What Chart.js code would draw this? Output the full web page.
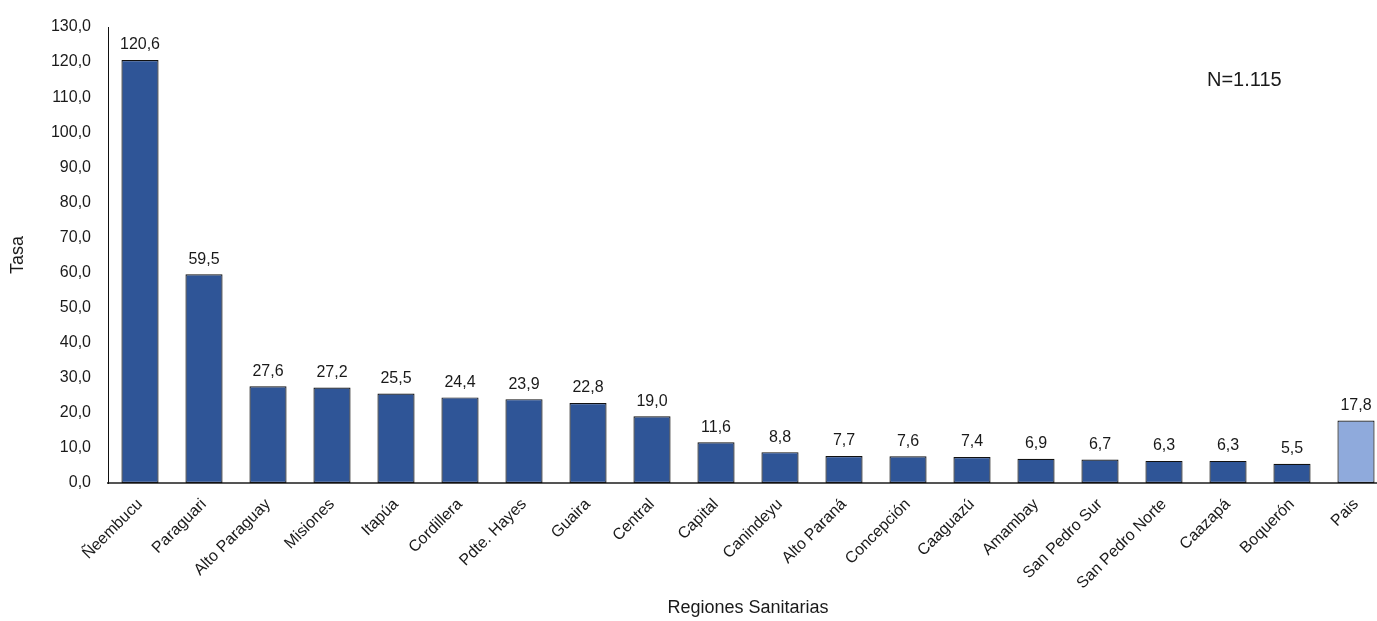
<!DOCTYPE html>
<html>
<head>
<meta charset="utf-8">
<script src="https://cdn.jsdelivr.net/npm/chart.js@4.4.1/dist/chart.umd.min.js"></script>
<style>
  html, body { margin: 0; padding: 0; background: #fff; overflow: hidden; }
  #wrap { position: relative; width: 1388px; height: 621px; }
</style>
</head>
<body>
<div id="wrap"><canvas id="chart"></canvas></div>
<script>
// regiones sanitarias y tasas
const regiones = ['Ñeembucu', 'Paraguari', 'Alto Paraguay', 'Misiones', 'Itapúa', 'Cordillera',
  'Pdte. Hayes', 'Guaira', 'Central', 'Capital', 'Canindeyu', 'Alto Paraná', 'Concepción',
  'Caaguazú', 'Amambay', 'San Pedro Sur', 'San Pedro Norte', 'Caazapá', 'Boquerón', 'Pais'];
const tasas = [120.6, 59.5, 27.6, 27.2, 25.5, 24.4, 23.9, 22.8, 19.0, 11.6, 8.8, 7.7, 7.6,
  7.4, 6.9, 6.7, 6.3, 6.3, 5.5, 17.8];
const totalN = 'N=1.115';

const fmt = (v) => v.toFixed(1).replace('.', ',');
const fontFamily = '"Liberation Sans", Arial, sans-serif';

// colores: el total del pais en celeste
const colores = regiones.map((r) => r === 'Pais' ? '#8FAADC' : '#2F5597');

// etiquetas encima de las barras y el N
const etiquetas = {
  id: 'etiquetas',
  afterDatasetsDraw(chart) {
    const ctx = chart.ctx;
    const meta = chart.getDatasetMeta(0);
    ctx.save();
    ctx.fillStyle = '#1a1a1a';
    ctx.font = '16px ' + fontFamily;
    ctx.textAlign = 'center';
    ctx.textBaseline = 'bottom';
    meta.data.forEach((bar, i) => {
      ctx.fillText(fmt(tasas[i]), bar.x, bar.y - 7);
    });
    ctx.font = '20px ' + fontFamily;
    ctx.textAlign = 'left';
    ctx.textBaseline = 'middle';
    ctx.fillText(totalN, 1207, 80);
    ctx.restore();
  }
};

const ctx = document.getElementById('chart').getContext('2d');
new Chart(ctx, {
  type: 'bar',
  data: {
    labels: regiones,
    datasets: [{
      data: tasas,
      backgroundColor: colores,
      borderColor: '#111',
      borderWidth: 1.2,
      borderSkipped: false,
      categoryPercentage: 1,
      barPercentage: 0.58
    }]
  },
  options: {
    responsive: true,
    maintainAspectRatio: false,
    animation: false,
    layout: { padding: { top: 27, left: 0, right: 0, bottom: 0 } },
    plugins: {
      legend: { display: false },
      tooltip: { enabled: false }
    },
    scales: {
      x: {
        grid: { display: false, drawTicks: false },
        border: { color: '#555', width: 2 },
        ticks: {
          color: '#1a1a1a',
          font: { size: 16, family: fontFamily },
          minRotation: 45,
          maxRotation: 45,
          padding: 12,
          autoSkip: false
        },
        title: {
          display: true,
          text: 'Regiones Sanitarias',
          color: '#1a1a1a',
          font: { size: 18, family: fontFamily },
          padding: { top: 4, bottom: 2 }
        },
        afterFit(scale) { scale.height = 138; }
      },
      y: {
        min: 0,
        max: 130,
        grid: { display: false, drawTicks: false },
        border: { color: '#111', width: 1 },
        ticks: {
          stepSize: 10,
          color: '#1a1a1a',
          font: { size: 16, family: fontFamily },
          padding: 17,
          callback: (v) => fmt(v)
        },
        title: {
          display: true,
          text: 'Tasa',
          color: '#1a1a1a',
          font: { size: 18, family: fontFamily },
          padding: { top: 7, bottom: 4 }
        },
        afterFit(scale) { scale.width = 108; }
      }
    }
  },
  plugins: [etiquetas]
});
</script>
</body>
</html>
